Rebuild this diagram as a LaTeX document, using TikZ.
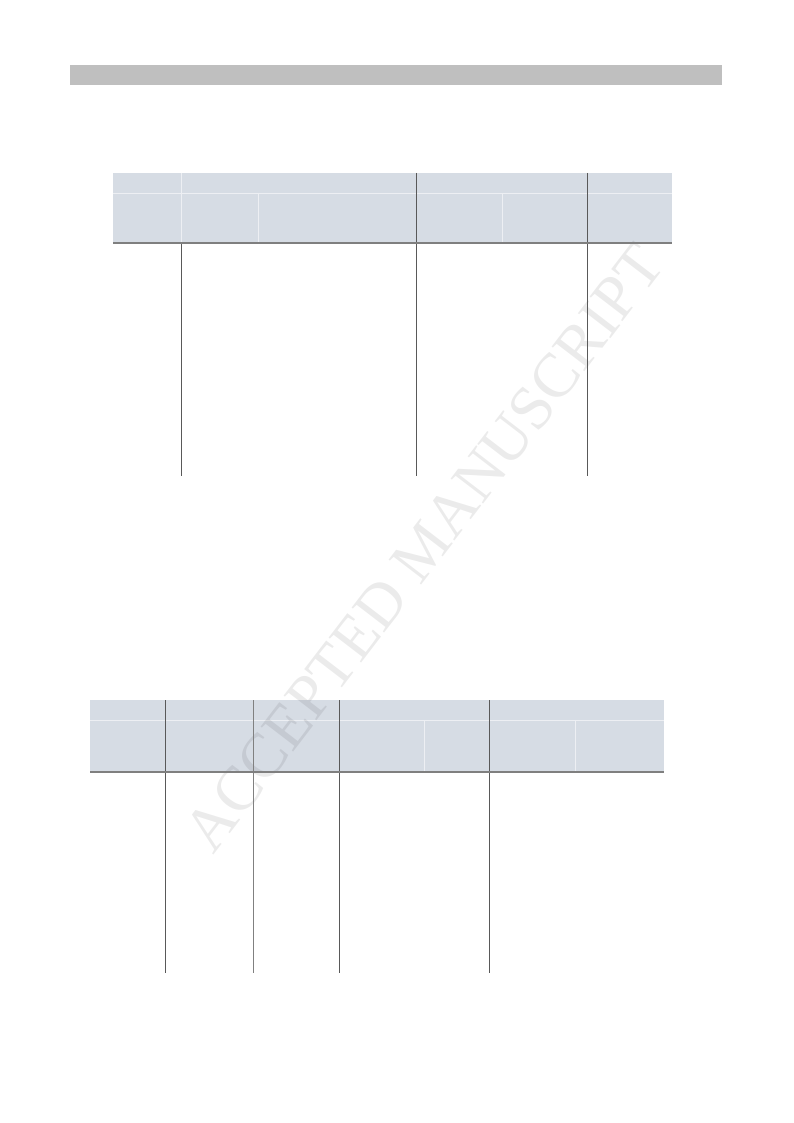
\documentclass[tikz,border=0pt]{standalone}
\usepackage{fontspec}
\setmainfont{Liberation Serif}
\usetikzlibrary{positioning}

\definecolor{headfill}{HTML}{D6DCE4}
\definecolor{barfill}{HTML}{BFBFBF}
\definecolor{rulegray}{HTML}{7F7F7F}
\definecolor{linegray}{HTML}{595959}
\definecolor{marklight}{HTML}{EBEBEB}

\begin{document}
\begin{tikzpicture}[x=0.75pt, y=-0.75pt,
  head/.style={fill=headfill, draw=none},
  sep/.style={draw=white!55!headfill, line width=0.6pt},
  col/.style={draw=linegray, line width=0.75pt},
  softcol/.style={draw=gray, line width=0.75pt},
  botrule/.style={draw=rulegray, line width=1.4pt}]
\useasboundingbox (0,0) rectangle (793,1123);
% title bar
\fill [barfill] (70,65) rectangle (722,85);
% table 1: header
\fill [head] (113,173) rectangle (672,243);
\draw [sep] (113,193) -- (672,193);
\draw [sep] (181,173) -- (181,243);
\draw [sep] (258,193) -- (258,243);
\draw [sep] (502,193) -- (502,243);
% table 2: header
\fill [head] (90,700) rectangle (664,772);
\draw [sep] (90,720) -- (664,720);
\draw [sep] (424,720) -- (424,772);
\draw [sep] (575,720) -- (575,772);
% watermark
\node (mark) [rotate=52.5, text=marklight, blend mode=multiply, font=\fontsize{47}{47}\selectfont] at (424,548) {ACCEPTED MANUSCRIPT};
% table 1: rules
\draw [col] (181,243) -- (181,476);
\draw [col] (416,173) -- (416,476);
\draw [col] (587,173) -- (587,476);
\draw [botrule] (113,243) -- (672,243);
% table 2: rules
\draw [col] (165,700) -- (165,973);
\draw [softcol] (253,700) -- (253,973);
\draw [col] (339,700) -- (339,973);
\draw [col] (489,700) -- (489,973);
\draw [botrule] (90,772) -- (664,772);
\end{tikzpicture}
\end{document}
